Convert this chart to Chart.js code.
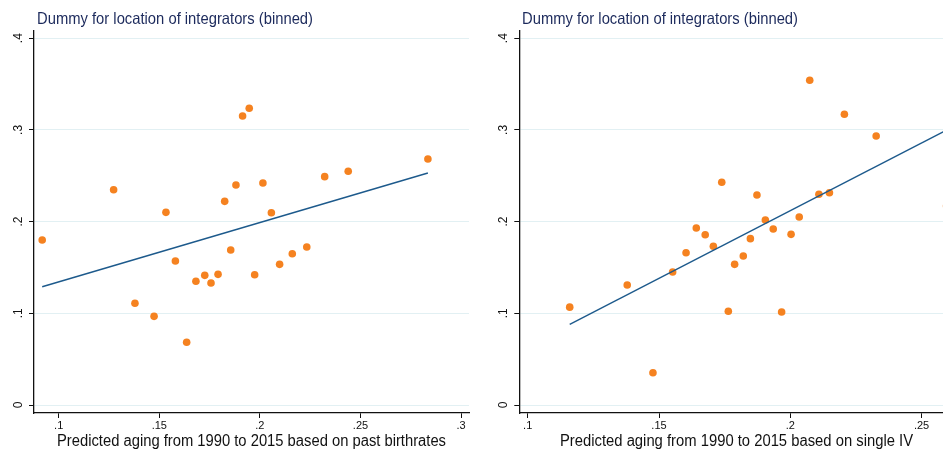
<!DOCTYPE html>
<html>
<head>
<meta charset="utf-8">
<script src="https://cdn.jsdelivr.net/npm/chart.js@4"></script>
<style>
  html, body { margin: 0; padding: 0; background: #fff; overflow: hidden; }
  body { width: 943px; height: 454px; position: relative; }
  .cv { position: absolute; top: 0; }
  .txt { position: absolute; white-space: nowrap; font-family: "Liberation Sans", Arial, sans-serif; line-height: 16px; transform-origin: 0 0; }
  .ttl { color: #1c2a5c; font-size: 16.5px; }
  .xt { color: #111; font-size: 16px; }
</style>
</head>
<body>
<div class="cv" style="left:0;width:470px;height:454px;"><canvas id="c1"></canvas></div>
<div class="cv" style="left:470px;width:484px;height:454px;"><canvas id="c2"></canvas></div>
<div class="txt ttl" id="t1" data-w="276" style="left:37px;top:9.5px;">Dummy for location of integrators (binned)</div>
<div class="txt ttl" id="t2" data-w="276" style="left:521.7px;top:9.5px;">Dummy for location of integrators (binned)</div>
<div class="txt xt" id="x1" data-w="389" style="left:56.7px;top:433.3px;">Predicted aging from 1990 to 2015 based on past birthrates</div>
<div class="txt xt" id="x2" data-w="353" style="left:560px;top:433.3px;">Predicted aging from 1990 to 2015 based on single IV</div>
<script>
// ---- Data ----
const leftX = [0.0918, 0.1273, 0.1379, 0.1474, 0.1533, 0.1580, 0.1636, 0.1682, 0.1726, 0.1757,
               0.1792, 0.1825, 0.1855, 0.1881, 0.1914, 0.1947, 0.1974, 0.2015, 0.2057, 0.2098,
               0.2161, 0.2233, 0.2322, 0.2439, 0.2835];
const leftY = [0.1799, 0.2348, 0.1109, 0.0967, 0.2101, 0.1570, 0.0684, 0.1349, 0.1414, 0.1330,
               0.1425, 0.2221, 0.1690, 0.2399, 0.3152, 0.3236, 0.1421, 0.2421, 0.2097, 0.1534,
               0.1650, 0.1723, 0.2490, 0.2549, 0.2683];
const leftFitX = [0.0918, 0.2835];
const leftFitY = [0.1290, 0.2530];

const rightX = [0.1160, 0.1379, 0.1477, 0.1552, 0.1603, 0.1642, 0.1676, 0.1707, 0.1739, 0.1764,
                0.1788, 0.1821, 0.1848, 0.1873, 0.1905, 0.1935, 0.1967, 0.2003, 0.2034, 0.2074,
                0.2109, 0.2149, 0.2206, 0.2327, 0.2595];
const rightY = [0.1067, 0.1309, 0.0352, 0.1450, 0.1661, 0.1930, 0.1857, 0.1731, 0.2429, 0.1022,
                0.1534, 0.1625, 0.1814, 0.2290, 0.2017, 0.1919, 0.1014, 0.1861, 0.2050, 0.3541,
                0.2298, 0.2315, 0.3170, 0.2933, 0.2170];
const rightFitX = [0.1160, 0.2595];
const rightFitY = [0.0880, 0.2998];

const yTickVals = [0, 0.1, 0.2, 0.3, 0.4];
const yTickLabels = ["0", ".1", ".2", ".3", ".4"];
const leftXTickVals = [0.1, 0.15, 0.2, 0.25, 0.3];
const leftXTickLabels = [".1", ".15", ".2", ".25", ".3"];
const rightXTickVals = [0.1, 0.15, 0.2, 0.25];
const rightXTickLabels = [".1", ".15", ".2", ".25"];

// ---- Styling ----
const ORANGE = '#f58220';
const NAVY = '#1d5a8c';
const GRID = '#e2f0f3';
const FONT = '"Liberation Sans", Arial, sans-serif';

const yLabelPlugin = {
  id: 'yRotLabels',
  afterDraw(chart) {
    const s = chart.scales.y;
    const ctx = chart.ctx;
    ctx.save();
    ctx.font = '12px ' + FONT;
    ctx.fillStyle = '#111';
    ctx.textAlign = 'center';
    ctx.textBaseline = 'alphabetic';
    yTickVals.forEach((v, i) => {
      const y = s.getPixelForValue(v);
      ctx.save();
      ctx.translate(s.right - 12.3, y);
      ctx.rotate(-Math.PI / 2);
      ctx.fillText(yTickLabels[i], 0, 0);
      ctx.restore();
    });
    ctx.restore();
  }
};

function makeChart(id, xs, ys, fx, fy, xTickVals, xTickLabels, xmin, xmax, yAxisW, padRight) {
  const pts = xs.map((x, i) => ({x: x, y: ys[i]}));
  const fit = fx.map((x, i) => ({x: x, y: fy[i]}));
  return new Chart(document.getElementById(id), {
    type: 'scatter',
    data: {
      datasets: [
        { type: 'line', data: fit, borderColor: NAVY, borderWidth: 1.4, pointRadius: 0, fill: false, order: 0 },
        { type: 'scatter', data: pts, backgroundColor: ORANGE, borderWidth: 0, pointRadius: 3.8, order: 1 }
      ]
    },
    options: {
      responsive: true,
      maintainAspectRatio: false,
      animation: false,
      events: [],
      layout: { autoPadding: false, padding: { top: 31, right: padRight, left: 0, bottom: 0 } },
      plugins: { legend: { display: false }, tooltip: { enabled: false }, title: { display: false } },
      scales: {
        x: {
          type: 'linear', min: xmin, max: xmax,
          afterBuildTicks: (s) => { s.ticks = xTickVals.map(v => ({value: v})); },
          afterFit: (s) => { s.height = 41; },
          grid: { drawOnChartArea: false, drawTicks: true, tickLength: 5, tickColor: '#111', tickWidth: 1 },
          border: { display: true, color: '#111', width: 1.3 },
          ticks: {
            autoSkip: false, maxRotation: 0, minRotation: 0, padding: 1,
            color: '#111', font: { family: FONT, size: 11 },
            callback: (v, i) => xTickLabels[i]
          }
        },
        y: {
          type: 'linear', min: -0.00872, max: 0.40785,
          afterBuildTicks: (s) => { s.ticks = yTickVals.map(v => ({value: v})); },
          afterFit: (s) => { s.width = yAxisW; },
          grid: { drawOnChartArea: true, color: GRID, lineWidth: 1, drawTicks: true, tickLength: 5, tickColor: '#111', tickWidth: 1 },
          border: { display: true, color: '#111', width: 1.3 },
          ticks: { display: false }
        }
      }
    },
    plugins: [yLabelPlugin]
  });
}

makeChart('c1', leftX, leftY, leftFitX, leftFitY, leftXTickVals, leftXTickLabels, 0.087724, 0.30393, 34, 1);
makeChart('c2', rightX, rightY, rightFitX, rightFitY, rightXTickVals, rightXTickLabels, 0.09680, 0.26234, 49.3, 0);

// fit text widths to the reference widths
document.querySelectorAll('.txt').forEach(el => {
  const w = el.getBoundingClientRect().width;
  const target = parseFloat(el.dataset.w);
  el.style.transform = 'scaleX(' + (target / w) + ')';
});
</script>
</body>
</html>
